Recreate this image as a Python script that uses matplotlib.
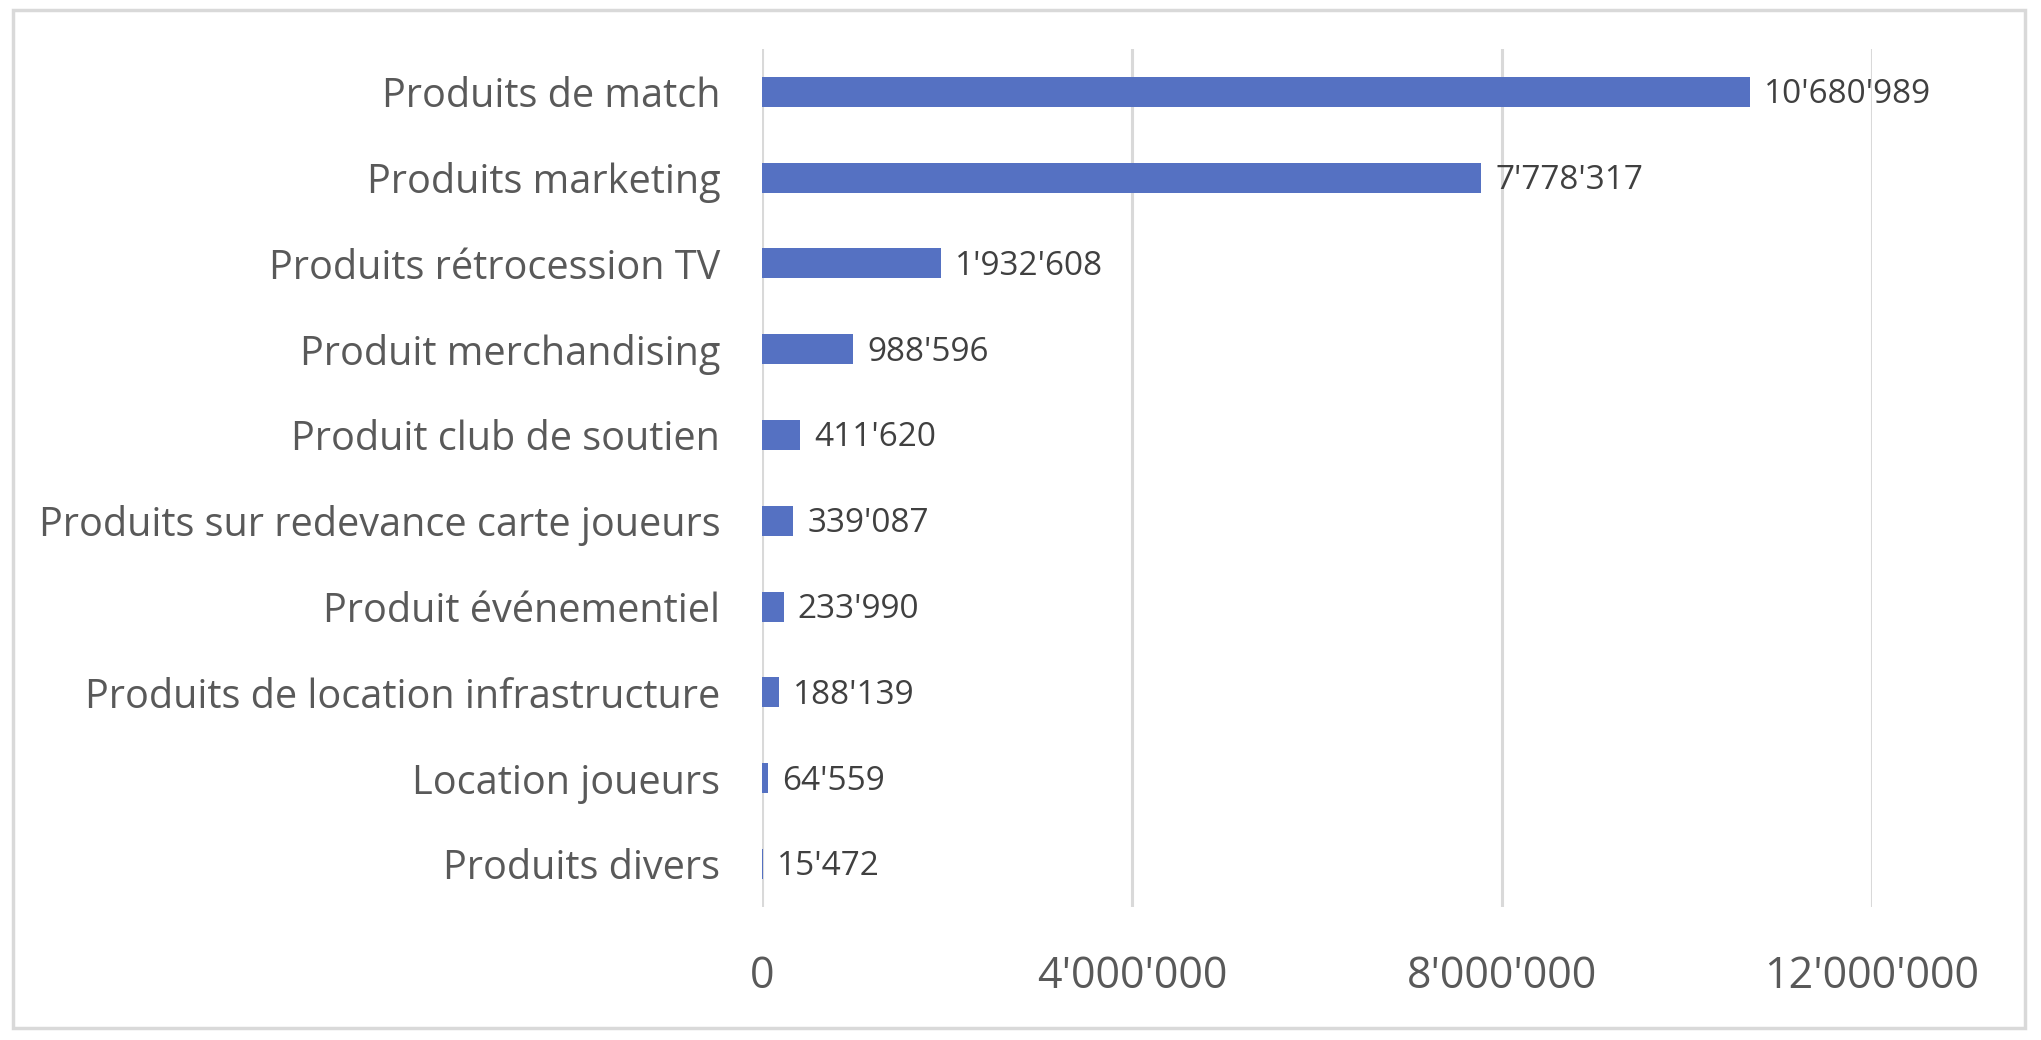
import matplotlib
matplotlib.use("Agg")
import matplotlib.pyplot as plt
from matplotlib.patches import Rectangle

categories = [
    "Produits de match",
    "Produits marketing",
    "Produits rétrocession TV",
    "Produit merchandising",
    "Produit club de soutien",
    "Produits sur redevance carte joueurs",
    "Produit événementiel",
    "Produits de location infrastructure",
    "Location joueurs",
    "Produits divers",
]
values = [10680989, 7778317, 1932608, 988596, 411620, 339087, 233990, 188139, 64559, 15472]
xticks = [0, 4000000, 8000000, 12000000]

plt.rcParams['font.family'] = ['Open Sans', 'DejaVu Sans']


def fmt(v):
    return f"{v:,}".replace(",", "'")


fig = plt.figure(figsize=(20.41, 10.40), dpi=100)
ax = fig.add_axes([0.3733, 0.1279, 0.5439, 0.825])

pos = list(range(len(categories)))
ax.barh(pos, values, height=0.35, color="#5571C2", zorder=3)

for p, v in zip(pos, values):
    ax.annotate(fmt(v), (v, p), xytext=(10, -2), textcoords="offset points",
                va="center", ha="left", fontsize=24, color="#404040")

ax.set_yticks(pos)
ax.set_yticklabels(categories, fontsize=28.5, color="#595959")
ax.set_ylim(len(categories) - 0.5, -0.5)

ax.set_xticks(xticks)
ax.set_xticklabels([fmt(t) for t in xticks], fontsize=31, color="#595959")
ax.set_xlim(0, 12000000)

ax.grid(axis="x", color="#D9D9D9", linewidth=2.2, zorder=0)
for s in ax.spines.values():
    s.set_visible(False)
ax.tick_params(axis="both", length=0)
ax.tick_params(axis="y", pad=30)
ax.tick_params(axis="x", pad=34)

fig.add_artist(Rectangle((13 / 2041, 12 / 1040), (2025 - 13) / 2041, (1030 - 12) / 1040,
                         transform=fig.transFigure, fill=False, ec="#D9D9D9", lw=2.5))

fig.savefig("out.png", dpi=100, facecolor="white")
